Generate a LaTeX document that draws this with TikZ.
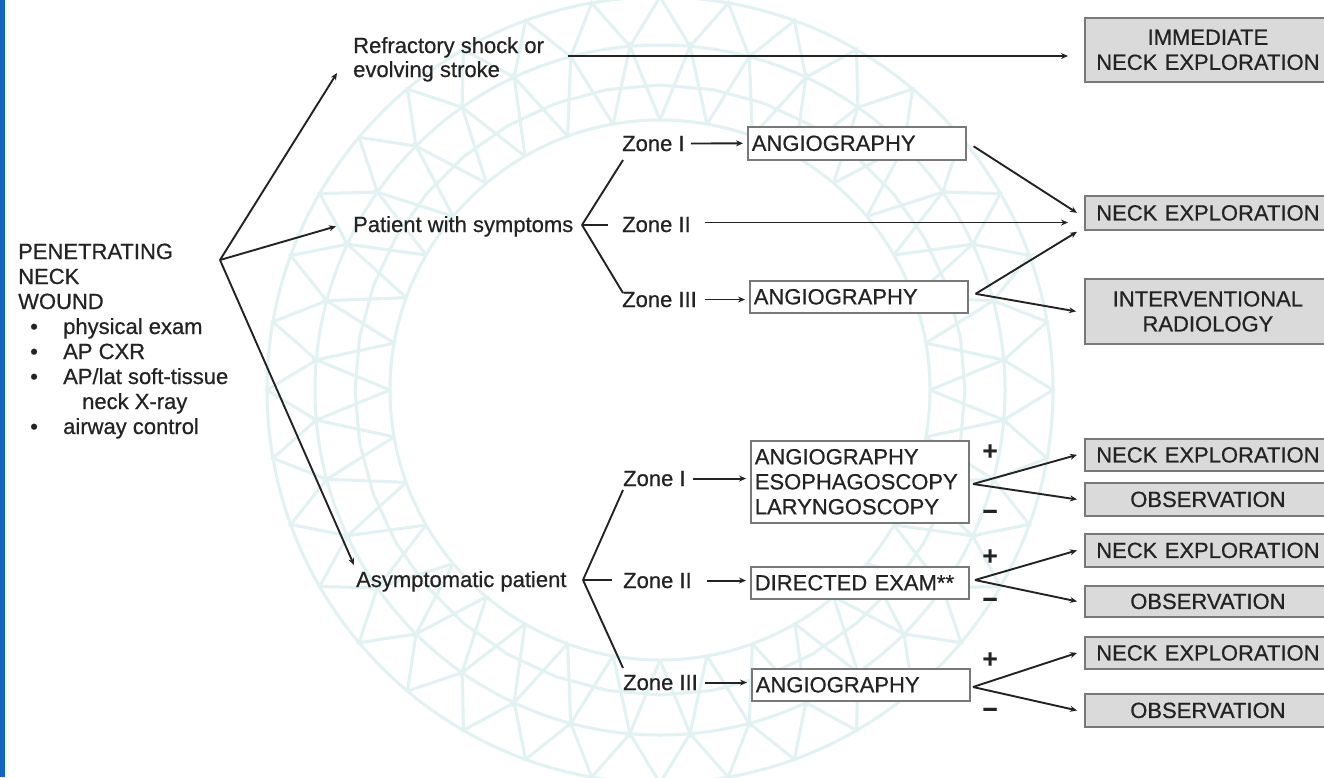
\documentclass[tikz,border=0pt]{standalone}
\usepackage{fontspec}
\setmainfont{Liberation Sans}[FakeBold=0.6]
\usetikzlibrary{arrows.meta,calc}
\definecolor{wmc}{RGB}{226,241,242}
\definecolor{barblue}{RGB}{21,101,192}
\definecolor{boxgray}{RGB}{218,218,218}
\definecolor{edgegray}{RGB}{120,120,120}
\definecolor{ink}{RGB}{35,35,35}
\begin{document}
\begin{tikzpicture}[x=1pt,y=-1pt,
  every node/.style={font=\fontsize{22}{25}\selectfont, text=ink, inner sep=0pt},
  txt/.style={anchor=base west},
  wm/.style={draw=wmc, line width=3pt},
  ln/.style={draw=ink, line width=1.9pt},
  arr/.style={ln, -{Stealth[length=7pt,width=6pt]}},
  sign/.style={font=\fontsize{26}{26}\bfseries},
  wbox/.style={draw=edgegray, line width=1.6pt, fill=white, text width=210pt,
    inner xsep=4pt, align=left, anchor=north west},
  gbox/.style={draw=edgegray, line width=1.8pt, fill=boxgray, text width=238pt,
    inner xsep=4pt, align=center, anchor=north west}]
\useasboundingbox (0,0) rectangle (1324,777);
\fill[white] (0,0) rectangle (1324,777);
% watermark
\begin{scope}[shift={(660,390)}]
  \foreach \r in {270,345,393} {\draw[wm] (0,0) circle (\r);}
  \foreach \k in {0,...,35} {
    \draw[wm] (\k*10:270) -- (\k*10+5:345) -- (\k*10+10:270);
    \draw[wm] (\k*10+5:345) -- (\k*10+10:393) -- (\k*10+15:345);
    \draw[wm] (\k*10:305) -- (\k*10+10:305);
  }
\end{scope}
\fill[barblue] (0,0) rectangle (5,777);
% left block
\node[txt] (pen) at (18,259) {PENETRATING};
\node[txt] (neck) at (18,284) {NECK};
\node[txt] (wound) at (18,309) {WOUND};
\node[txt] (d1) at (30,334) {\textbullet};
\node[txt] (l1) at (63,334) {physical exam};
\node[txt] (d2) at (30,359) {\textbullet};
\node[txt] (l2) at (63,359) {AP CXR};
\node[txt] (d3) at (30,384) {\textbullet};
\node[txt] (l3) at (63,384) {AP/lat soft-tissue};
\node[txt] (l3b) at (82,409) {neck X-ray};
\node[txt] (d4) at (30,434) {\textbullet};
\node[txt] (l4) at (63,434) {airway control};
\coordinate (wb) at (220,260);
% level 1
\node[txt] (refr1) at (353,53) {Refractory shock or};
\node[txt] (refr2) at (353,77) {evolving stroke};
\node[txt] (sym) at (353,232) {Patient with symptoms};
\node[txt] (asym) at (356,587) {Asymptomatic patient};
\coordinate (refrtip) at (337,73);
\coordinate (asymtip) at (354,565);
\draw[arr] (wb) -- (refrtip);
\draw[arr] (wb) -- ([xshift=-17pt]sym.west);
\draw[arr] (wb) -- (asymtip);
% outcome boxes
\node[gbox, minimum height=64pt] (imm) at (1084,17) {IMMEDIATE\\NECK EXPLORATION};
\node[gbox, minimum height=34pt] (nex) at (1084,195) {NECK EXPLORATION};
\node[gbox, minimum height=65pt] (ir) at (1084,278) {INTERVENTIONAL\\RADIOLOGY};
\node[gbox, minimum height=32pt] (n1) at (1084,438) {NECK EXPLORATION};
\node[gbox, minimum height=33pt] (o1) at (1084,482) {OBSERVATION};
\node[gbox, minimum height=33pt] (n2) at (1084,533) {NECK EXPLORATION};
\node[gbox, minimum height=31pt] (o2) at (1084,585) {OBSERVATION};
\node[gbox, minimum height=32pt] (n3) at (1084,636) {NECK EXPLORATION};
\node[gbox, minimum height=33pt] (o3) at (1084,693) {OBSERVATION};
\coordinate (r0) at (568,56);
\draw[arr] (r0) -- ([xshift=-16pt]r0 -| imm.west);
% symptomatic
\coordinate (sb) at (582,225);
\node[txt] (z1) at (622,151) {Zone I};
\node[txt] (z2) at (622,232) {Zone II};
\node[txt] (z3) at (622,307) {Zone III};
\draw[ln] (sb) -- (623,160);
\draw[ln] (sb) -- (608,225);
\draw[ln] (sb) -- (623,293);
\node[wbox, minimum height=33pt] (ang1) at (747,126) {ANGIOGRAPHY};
\node[wbox, minimum height=32pt] (ang3) at (749,280) {ANGIOGRAPHY};
\draw[arr] ([xshift=6pt]z1.east) -- ([xshift=-4pt]ang1.west);
\draw[arr] ([xshift=8pt]z3.east) -- ([xshift=-4pt]z3.east -| ang3.west);
\draw[arr] ([xshift=14pt,yshift=2pt]z2.east) -- ([xshift=-16pt,yshift=2pt]z2.east -| nex.west);
\draw[arr] ([xshift=7pt,yshift=-3pt]ang1.east) -- ([xshift=-7pt]nex.west);
\draw[arr] ([xshift=7pt,yshift=3pt]ang3.east) -- ([xshift=-7pt,yshift=-1pt]nex.south west);
\draw[arr] ([xshift=7pt,yshift=3pt]ang3.east) -- ([xshift=-8pt]ir.west);
% asymptomatic
\coordinate (ab) at (583,580);
\node[txt] (y1) at (623,486) {Zone I};
\node[txt] (y2) at (623,588) {Zone II};
\node[txt] (y3) at (623,690) {Zone III};
\draw[ln] (ab) -- (623,490);
\draw[ln] (ab) -- (612,580);
\draw[ln] (ab) -- (623,668);
\node[wbox, minimum height=82pt] (aes) at (750,440) {ANGIOGRAPHY\\ESOPHAGOSCOPY\\LARYNGOSCOPY};
\node[wbox, minimum height=32pt] (dir) at (750,566) {DIRECTED EXAM**};
\node[wbox, minimum height=32pt] (ang3b) at (751,668) {ANGIOGRAPHY};
\draw[arr] ([xshift=7pt]y1.east) -- ([xshift=-4pt]y1.east -| aes.west);
\draw[arr] ([xshift=15pt]y2.east) -- ([xshift=-4pt]y2.east -| dir.west);
\draw[arr] ([xshift=7pt]y3.east) -- ([xshift=-4pt]y3.east -| ang3b.west);
% results
\coordinate (g1) at (973,484);
\coordinate (g2) at (975,580);
\coordinate (g3) at (973,687);
\draw[arr] (g1) -- ([xshift=-7pt]n1.west);
\draw[arr] (g1) -- ([xshift=-7pt]o1.west);
\draw[arr] (g2) -- ([xshift=-7pt]n2.west);
\draw[arr] (g2) -- ([xshift=-7pt]o2.west);
\draw[arr] (g3) -- ([xshift=-7pt]n3.west);
\draw[arr] (g3) -- ([xshift=-7pt]o3.west);
\node[sign] (p1) at (990,452) {+};
\node[sign] (m1) at (990,515) {\textminus};
\node[sign] (p2) at (990,557) {+};
\node[sign] (m2) at (990,603) {\textminus};
\node[sign] (p3) at (990,660) {+};
\node[sign] (m3) at (990,713) {\textminus};
\end{tikzpicture}
\end{document}
